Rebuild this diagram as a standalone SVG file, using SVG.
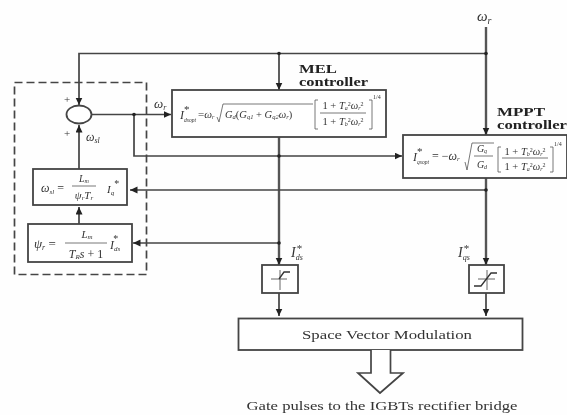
<svg xmlns="http://www.w3.org/2000/svg" width="567" height="415" viewBox="0 0 567 415">
<style>
text{font-family:"Liberation Serif","Times New Roman",serif;fill:#333}
.i{font-style:italic}
.b{font-weight:bold;font-size:11.500px;fill:#222}
.box{fill:#fff;stroke:#444;stroke-width:1.8}
.w{fill:none;stroke:#444;stroke-width:1.7}
.t{fill:none;stroke:#555;stroke-width:2.4}
.f{fill:none;stroke:#555;stroke-width:.8}
.th{fill:none;stroke:#666;stroke-width:1}
</style>
<defs>
<marker id="a" markerUnits="userSpaceOnUse" markerWidth="9" markerHeight="9" refX="7.500" refY="3.500" orient="auto"><path d="M0 0L7.500 3.500L0 7Z" fill="#222"/></marker>
<filter id="s" x="-2%" y="-2%" width="104%" height="104%"><feGaussianBlur stdDeviation="0.55"/></filter>
</defs>
<rect width="567" height="415" fill="#fefefe"/>
<g filter="url(#s)">
<g id="connectors">
<path class="t" d="M486 27V135" marker-end="url(#a)"/>
<path class="w" d="M486 53.500H79V105" marker-end="url(#a)"/>
<path class="w" d="M279 53.500V90" marker-end="url(#a)"/>
<path class="w" d="M91 114.500H171" marker-end="url(#a)"/>
<path class="w" d="M134 114.500V156H402" marker-end="url(#a)"/>
<path class="t" d="M279 137V265" marker-end="url(#a)"/>
<path class="t" d="M486 178V265" marker-end="url(#a)"/>
<path class="w" d="M486 190H130" marker-end="url(#a)"/>
<path class="w" d="M279 243H133" marker-end="url(#a)"/>
<path class="w" d="M79 169V125" marker-end="url(#a)"/>
<path class="w" d="M79 224V207" marker-end="url(#a)"/>
<path class="w" d="M279 293V316" marker-end="url(#a)"/>
<path class="w" d="M486 293V316" marker-end="url(#a)"/>
<circle cx="279" cy="53.500" r="1.800" fill="#222"/>
<circle cx="486" cy="53.500" r="1.800" fill="#222"/>
<circle cx="134" cy="114.500" r="1.800" fill="#222"/>
<circle cx="279" cy="156" r="1.800" fill="#222"/>
<circle cx="486" cy="190" r="1.800" fill="#222"/>
<circle cx="279" cy="243" r="1.800" fill="#222"/>
</g>
<g id="estimator">
<rect x="14.500" y="82.500" width="132" height="192" fill="none" stroke="#444" stroke-width="1.700" stroke-dasharray="8 4"/>
</g>
<g id="summer">
<ellipse class="box" cx="79" cy="114.500" rx="12.500" ry="9"/>
<text x="67" y="103" font-size="11" text-anchor="middle">+</text>
<text x="67" y="137" font-size="11" text-anchor="middle">+</text>
<text x="86" y="141" font-size="12" class="i">ω<tspan font-size="8" dy="2">sl</tspan></text>
</g>
<g id="slip">
<rect class="box" x="33" y="169" width="94" height="36"/>
<text x="41" y="192" font-size="12" class="i">ω<tspan font-size="7" dy="2">sl</tspan><tspan dy="-2" font-style="normal"> =</tspan></text>
<text x="84" y="182" font-size="10" class="i" text-anchor="middle">L<tspan font-size="6" dy="1">m</tspan></text>
<path class="f" d="M72 186H96"/>
<text x="84" y="199" font-size="11" class="i" text-anchor="middle">ψ<tspan font-size="7" dy="1">r</tspan><tspan dy="-1">T</tspan><tspan font-size="7" dy="1">r</tspan></text>
<text x="107" y="193" font-size="11" class="i">I<tspan font-size="7" dy="2">q</tspan><tspan font-size="10" dy="-8" font-style="normal">*</tspan></text>
</g>
<g id="flux">
<rect class="box" x="28" y="224" width="104" height="38"/>
<text x="34" y="248" font-size="13" class="i">ψ<tspan font-size="8" dy="2">r</tspan><tspan dy="-2" font-style="normal"> =</tspan></text>
<text x="87" y="238" font-size="11" class="i" text-anchor="middle">L<tspan font-size="7" dy="1">m</tspan></text>
<path class="f" d="M65 243H107"/>
<text x="86" y="258" font-size="12" class="i" text-anchor="middle">T<tspan font-size="7" dy="1">R</tspan><tspan dy="-1">s</tspan><tspan font-style="normal"> + 1</tspan></text>
<text x="110" y="249" font-size="12" class="i">I<tspan font-size="7" dy="2">ds</tspan><tspan font-size="10" dy="-9" dx="-7" font-style="normal">*</tspan></text>
</g>
<g id="mel">
<rect class="box" x="172" y="90" width="214" height="47"/>
<text x="180" y="119" font-size="12" class="i">I<tspan font-size="5.500" dy="3">dsopt</tspan><tspan font-size="11" font-style="normal" dx="-12" dy="-9">*</tspan></text>
<text x="198" y="118" font-size="11" class="i"><tspan font-style="normal">=</tspan>ω<tspan font-size="6" dy="1">r</tspan></text>
<path class="f" d="M217 117L219 122L223 104H313"/>
<text x="225" y="118" font-size="10.500" class="i">G<tspan font-size="6.500" dy="1">d</tspan><tspan dy="-1" font-style="normal">(</tspan>G<tspan font-size="6.500" dy="1">q1</tspan><tspan dy="-1" font-style="normal"> + </tspan>G<tspan font-size="6.500" dy="1">q2</tspan><tspan dy="-1">ω</tspan><tspan font-size="6.500" dy="1">r</tspan><tspan dy="-1" font-style="normal">)</tspan></text>
<path class="f" d="M318 100H315V129H318M369 100H372V129H369"/>
<text x="343" y="109" font-size="10.500" text-anchor="middle">1 + <tspan class="i">T</tspan><tspan class="i" font-size="6" dy="1">a</tspan><tspan font-size="6" dy="-4">2</tspan><tspan class="i" dy="3">ω</tspan><tspan class="i" font-size="6" dy="1">r</tspan><tspan font-size="6" dy="-4">2</tspan></text>
<path class="f" d="M320 113H366"/>
<text x="343" y="125" font-size="10.500" text-anchor="middle">1 + <tspan class="i">T</tspan><tspan class="i" font-size="6" dy="1">b</tspan><tspan font-size="6" dy="-4">2</tspan><tspan class="i" dy="3">ω</tspan><tspan class="i" font-size="6" dy="1">r</tspan><tspan font-size="6" dy="-4">2</tspan></text>
<text x="373" y="99" font-size="6">1/4</text>
<text x="154" y="108" font-size="13" class="i">ω<tspan font-size="8" dy="2">r</tspan></text>
<text x="299" y="73" class="b" textLength="38" lengthAdjust="spacingAndGlyphs">MEL</text>
<text x="299" y="86" class="b" textLength="69" lengthAdjust="spacingAndGlyphs">controller</text>
</g>
<g id="mppt">
<rect class="box" x="403" y="135" width="164" height="43"/>
<text x="413" y="161" font-size="12" class="i">I<tspan font-size="5.500" dy="3">qsopt</tspan><tspan font-size="11" font-style="normal" dx="-12" dy="-9">*</tspan></text>
<text x="432" y="160" font-size="12" class="i"><tspan font-style="normal">= −</tspan>ω<tspan font-size="7" dy="1">r</tspan></text>
<path class="f" d="M465 162L467 170L472 143H494"/>
<text x="482" y="152" font-size="10" class="i" text-anchor="middle">G<tspan font-size="6" dy="1">q</tspan></text>
<path class="f" d="M474 156H493"/>
<text x="482" y="168" font-size="10" class="i" text-anchor="middle">G<tspan font-size="6" dy="1">d</tspan></text>
<path class="f" d="M501 147H498V172H501M550 147H553V172H550"/>
<text x="525" y="155" font-size="10.500" text-anchor="middle">1 + <tspan class="i">T</tspan><tspan class="i" font-size="6" dy="1">b</tspan><tspan font-size="6" dy="-4">2</tspan><tspan class="i" dy="3">ω</tspan><tspan class="i" font-size="6" dy="1">r</tspan><tspan font-size="6" dy="-4">2</tspan></text>
<path class="f" d="M502 158H548"/>
<text x="525" y="170" font-size="10.500" text-anchor="middle">1 + <tspan class="i">T</tspan><tspan class="i" font-size="6" dy="1">a</tspan><tspan font-size="6" dy="-4">2</tspan><tspan class="i" dy="3">ω</tspan><tspan class="i" font-size="6" dy="1">r</tspan><tspan font-size="6" dy="-4">2</tspan></text>
<text x="554" y="146" font-size="6">1/4</text>
<text x="497" y="116" class="b" textLength="48" lengthAdjust="spacingAndGlyphs">MPPT</text>
<text x="497" y="129" class="b" textLength="70" lengthAdjust="spacingAndGlyphs">controller</text>
</g>
<g id="speed">
<text x="477" y="21" font-size="15" class="i">ω<tspan font-size="10" dy="3">r</tspan></text>
</g>
<g id="limiter-d">
<rect class="box" x="262" y="265" width="36" height="28"/>
<path class="th" d="M271 279H287M280 270V290"/>
<path fill="none" stroke="#333" stroke-width="1.300" d="M279 279L284 272H290"/>
<text x="291" y="257" font-size="14" class="i">I<tspan font-size="8" dy="3">ds</tspan><tspan font-size="11" font-style="normal" dx="-6" dy="-8">*</tspan></text>
</g>
<g id="limiter-q">
<rect class="box" x="469" y="265" width="35" height="28"/>
<path class="th" d="M478 279H495M487 270V290"/>
<path fill="none" stroke="#333" stroke-width="1.300" d="M474 286H481L491 273H497"/>
<text x="458" y="257" font-size="14" class="i">I<tspan font-size="8" dy="3">qs</tspan><tspan font-size="11" font-style="normal" dx="-6" dy="-8">*</tspan></text>
</g>
<g id="svm">
<rect class="box" x="238.500" y="318.500" width="284" height="31.500"/>
<text x="387" y="339" font-size="13" text-anchor="middle" textLength="170" lengthAdjust="spacingAndGlyphs">Space Vector Modulation</text>
</g>
<g id="output">
<path d="M371 350V373H358L380 393L403 373H390.500V350" fill="#fff" stroke="#444" stroke-width="1.700"/>
<text x="382" y="410" font-size="12" text-anchor="middle" textLength="271" lengthAdjust="spacingAndGlyphs">Gate pulses to the IGBTs rectifier bridge</text>
</g>
</g>
</svg>
